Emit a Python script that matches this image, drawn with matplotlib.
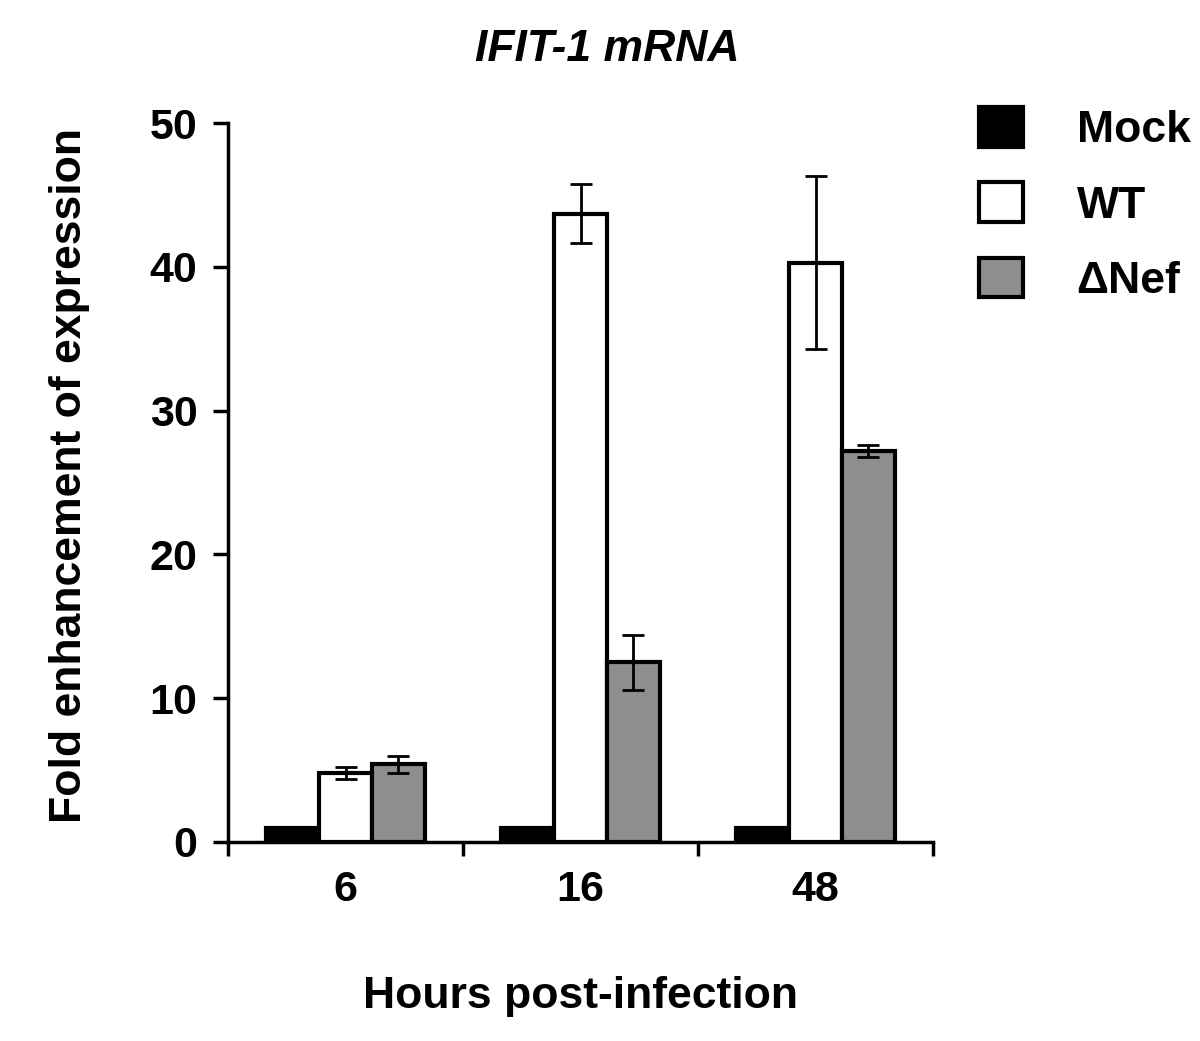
import numpy as np
import matplotlib
matplotlib.use("Agg")
import matplotlib.pyplot as plt

plt.rcParams['font.family'] = ['Liberation Sans', 'DejaVu Sans']
plt.rcParams['font.weight'] = 'bold'

hours = ['6', '16', '48']
series = ['Mock', 'WT', 'ΔNef']
mock = [1.0, 1.0, 1.0]
mock_err = [0.05, 0.05, 0.05]
wt = [4.8, 43.7, 40.3]
wt_err = [0.4, 2.05, 6.0]
dnef = [5.4, 12.5, 27.2]
dnef_err = [0.6, 1.9, 0.4]

colors = ['black', 'white', '#8e8e8e']

fig = plt.figure(figsize=(12, 10.41), dpi=100)
ax = fig.add_axes([0.19, 0.1912, 0.5875, 0.6906])

x = np.arange(len(hours)) + 0.5
w = 0.225
for i, (vals, errs, lab) in enumerate(zip([mock, wt, dnef], [mock_err, wt_err, dnef_err], series)):
    ax.bar(x + (i - 1) * w, vals, w, color=colors[i], edgecolor='black',
           linewidth=3, label=lab, zorder=2)
    ax.errorbar(x + (i - 1) * w, vals, yerr=errs, fmt='none', ecolor='black',
                elinewidth=2, capsize=8, capthick=2, zorder=3)

ax.set_xlim(0, 3)
ax.set_ylim(0, 50)
ax.set_yticks([0, 10, 20, 30, 40, 50])
# group boundaries get the tick marks, labels sit at the group centres
ax.set_xticks([0, 1, 2, 3])
ax.set_xticklabels([])
ax.set_xticks(x, minor=True)
ax.set_xticklabels(hours, minor=True)
ax.tick_params(axis='x', which='minor', length=0, pad=20, labelsize=31)
ax.tick_params(axis='x', which='major', direction='out', length=10, width=2.5)
ax.tick_params(axis='y', direction='out', length=11, width=2.5, pad=11, labelsize=31)

for s in ['top', 'right']:
    ax.spines[s].set_visible(False)
for s in ['left', 'bottom']:
    ax.spines[s].set_linewidth(2.5)

ax.set_xlabel('Hours post-infection', fontsize=32, fontweight='bold', labelpad=48)
ax.set_ylabel('Fold enhancement of expression', fontsize=32, fontweight='bold', labelpad=43)
ax.yaxis.label.set_y(0.51)
fig.text(0.506, 0.952, 'IFIT-1 mRNA', fontsize=32, fontweight='bold', style='italic',
         ha='center', va='center')

ax.legend(loc='upper left', bbox_to_anchor=(1.065, 1.022), frameon=False, fontsize=32,
          handlelength=1.0, handleheight=1.0, handletextpad=1.2, labelspacing=0.7,
          borderaxespad=0, borderpad=0)

fig.savefig('out.png', dpi=100)
